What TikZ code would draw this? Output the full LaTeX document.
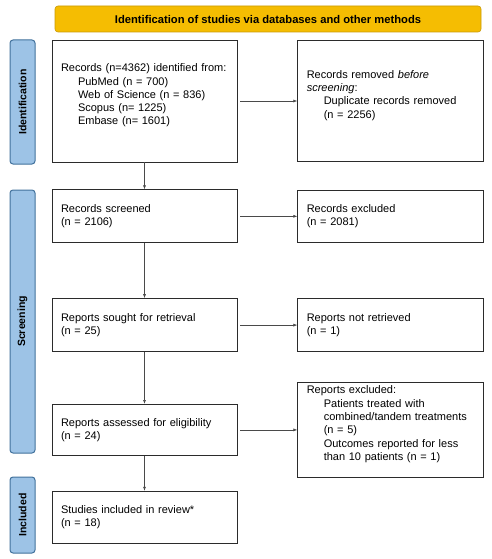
\documentclass[tikz,border=0pt]{standalone}
\usepackage{fontspec}
\setmainfont{Liberation Sans}
\usepackage{tikz}
\usetikzlibrary{positioning, arrows.meta, calc}
\definecolor{Gold}{HTML}{F5BD02}
\definecolor{GoldDark}{HTML}{C99A06}
\definecolor{SideBlue}{HTML}{9DC3E6}
\definecolor{SideEdge}{HTML}{41719C}
\definecolor{Black90}{HTML}{2B2B2B}
\definecolor{Black70}{HTML}{4A4A4A}
% empty last line, lifts the text block a little
\newcommand{\liftline}{\\[0pt]\mbox{}}

\begin{document}
\begin{tikzpicture}[
    x=1pt, y=-1pt,
    box/.style={draw=Black90, line width=0.8pt, minimum width=185pt, text width=167pt, inner xsep=9pt, align=left, font=\fontsize{11}{13.3}\selectfont},
    rbox/.style={box, minimum width=186pt, text width=168pt},
    sidebar/.style={draw=SideEdge, line width=1pt, fill=SideBlue, rounded corners=3pt, rotate=90, minimum height=25pt, inner sep=0pt, font=\fontsize{10.5}{12}\selectfont\bfseries},
    header/.style={draw=GoldDark, line width=0.6pt, fill=Gold, rounded corners=3pt, minimum width=426pt, minimum height=26pt, font=\fontsize{11.2}{13}\selectfont\bfseries},
    arr/.style={-{Latex[length=4pt, width=3pt]}, color=Black70, line width=0.6pt}
]
\useasboundingbox (0,0) rectangle (492,559);

% Header
\node[header] (head) at (268,19) {Identification of studies via databases and other methods};

% Main column
\node[box, minimum height=122pt] (ident) at (144.5,101) {Records (n=4362) identified from:\\
  \hspace*{17pt}PubMed (n = 700)\\
  \hspace*{17pt}Web of Science (n = 836)\\
  \hspace*{17pt}Scopus (n= 1225)\\
  \hspace*{17pt}Embase (n= 1601)\liftline};
\node[box, minimum height=53pt, below=27pt of ident] (screened) {Records screened\\(n = 2106)};
\node[box, minimum height=53pt, below=55pt of screened] (sought) {Reports sought for retrieval\\(n = 25)};
\node[box, minimum height=51pt, below=52pt of sought] (assessed) {Reports assessed for eligibility\\(n = 24)};
\node[box, minimum height=52pt, below=35pt of assessed] (included) {Studies included in review*\\(n = 18)};

% Side column
\node[rbox, minimum height=121pt, right=60pt of ident] (removed) {Records removed \textit{before}\\
  \textit{screening}:\\
  \hspace*{17pt}Duplicate records removed\\
  \hspace*{17pt}(n = 2256)\liftline};
\node[rbox, minimum height=52pt, right=60pt of screened] (excluded) {Records excluded\\(n = 2081)};
\node[rbox, minimum height=53pt, right=60pt of sought] (notretr) {Reports not retrieved\\(n = 1)};
\node[rbox, minimum height=95pt, inner ysep=1.5pt, right=60pt of assessed] (repexcl) {Reports excluded:\\
  \hspace*{17pt}Patients treated with\\
  \hspace*{17pt}combined/tandem treatments\\
  \hspace*{17pt}(n = 5)\\
  \hspace*{17pt}Outcomes reported for less\\
  \hspace*{17pt}than 10 patients (n = 1)\liftline};

% Stage bars
\node[sidebar, minimum width=124pt] (idbar) at (22.5,102) {Identification};
\node[sidebar, minimum width=263pt] (scrbar) at (22.5,321.5) {Screening};
\node[sidebar, minimum width=76pt] (incbar) at (22.5,515) {Included};

% Connectors
\draw[arr] (ident) -- (screened);
\draw[arr] (screened) -- (sought);
\draw[arr] (sought) -- (assessed);
\draw[arr] (assessed) -- (included);
\draw[arr, shorten <=3pt] (ident.east) -- (ident.east -| removed.west);
\draw[arr, shorten <=3pt] (screened.east) -- (screened.east -| excluded.west);
\draw[arr, shorten <=3pt] (sought.east) -- (sought.east -| notretr.west);
\draw[arr, shorten <=3pt] (assessed.east) -- (assessed.east -| repexcl.west);

\end{tikzpicture}
\end{document}
